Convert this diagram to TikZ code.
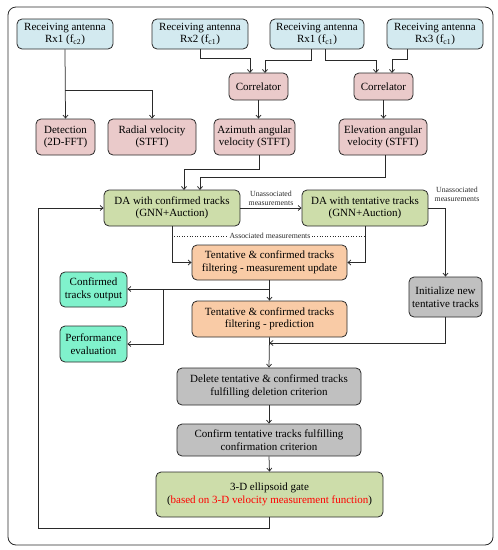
\documentclass[tikz,border=0pt]{standalone}
\usepackage{fontspec}
\setmainfont{Liberation Serif}
\usetikzlibrary{arrows.meta}
\definecolor{cblue}{HTML}{D3EAF0}
\definecolor{cpink}{HTML}{EACACA}
\definecolor{cgreen}{HTML}{CDDDAA}
\definecolor{corange}{HTML}{F9CBA6}
\definecolor{cmint}{HTML}{80F2CC}
\definecolor{cgray}{HTML}{C0C0C0}
\definecolor{cline}{HTML}{2A2A2A}
\tikzset{
  box/.style={draw=cline, line width=0.8pt, rounded corners=5pt, align=center, inner sep=1pt, font=\fontsize{11}{12.5}\selectfont},
  bluebox/.style={box, fill=cblue},
  pinkbox/.style={box, fill=cpink},
  greenbox/.style={box, fill=cgreen},
  orangebox/.style={box, fill=corange},
  mintbox/.style={box, fill=cmint},
  graybox/.style={box, fill=cgray},
  conn/.style={draw=cline, line width=0.75pt, -{Straight Barb[length=3pt,width=5pt]}},
  small/.style={font=\fontsize{7.8}{8.8}\selectfont, inner sep=1pt, align=center, text=cline},
}
\begin{document}
\begin{tikzpicture}[x=1pt,y=-1pt]
\useasboundingbox (0,0) rectangle (498,550);
\draw[cline, line width=0.8pt, rounded corners=8pt] (8,7) rectangle (493,545);

\node[bluebox, minimum width=96pt, minimum height=30pt] (rxa) at (65,34) {Receiving antenna\\Rx1 (f\textsubscript{c2})};
\node[bluebox, minimum width=96pt, minimum height=30pt] (rxb) at (200,34) {Receiving antenna\\Rx2 (f\textsubscript{c1})};
\node[bluebox, minimum width=94pt, minimum height=30pt] (rxc) at (317,34) {Receiving antenna\\Rx1 (f\textsubscript{c1})};
\node[bluebox, minimum width=96pt, minimum height=30pt] (rxd) at (435,34) {Receiving antenna\\Rx3 (f\textsubscript{c1})};

\node[pinkbox, minimum width=59pt, minimum height=27pt] (cor1) at (258.5,86.5) {Correlator};
\node[pinkbox, minimum width=59pt, minimum height=27pt] (cor2) at (383.5,86.5) {Correlator};

\node[pinkbox, minimum width=59pt, minimum height=36pt] (det) at (65.5,137) {Detection\\(2D-FFT)};
\node[pinkbox, minimum width=88pt, minimum height=36pt] (rad) at (152,137) {Radial velocity\\(STFT)};
\node[pinkbox, minimum width=81pt, minimum height=36pt] (azi) at (254.5,137) {Azimuth angular\\velocity (STFT)};
\node[pinkbox, minimum width=88pt, minimum height=36pt] (ele) at (383,137) {Elevation angular\\velocity (STFT)};

\node[greenbox, minimum width=136pt, minimum height=36pt] (dac) at (172,208) {DA with confirmed tracks\\(GNN+Auction)};
\node[greenbox, minimum width=126pt, minimum height=36pt] (dat) at (365,208) {DA with tentative tracks\\(GNN+Auction)};

\node[orangebox, minimum width=155pt, minimum height=35pt] (upd) at (269.5,262.5) {Tentative \& confirmed tracks\\filtering - measurement update};
\node[orangebox, minimum width=155pt, minimum height=36pt] (pred) at (269.5,319) {Tentative \& confirmed tracks\\filtering - prediction};

\node[graybox, minimum width=73pt, minimum height=40pt] (init) at (445.5,297) {Initialize new\\tentative tracks};

\node[mintbox, minimum width=67pt, minimum height=35pt] (out) at (93.5,289.5) {Confirmed\\tracks output};
\node[mintbox, minimum width=67pt, minimum height=36pt] (perf) at (93.5,344) {Performance\\evaluation};

\node[graybox, minimum width=184pt, minimum height=37pt] (del) at (269,386.5) {Delete tentative \& confirmed tracks\\fulfilling deletion criterion};
\node[graybox, minimum width=184pt, minimum height=32pt] (conf) at (269,440) {Confirm tentative tracks fulfilling\\confirmation criterion};
\node[greenbox, minimum width=227pt, minimum height=45pt] (gate) at (269.5,494.5) {3-D ellipsoid gate\\(\textcolor{red}{based on 3-D velocity measurement function})};

% antenna connections
\draw[conn] (rxa.south) -- (det.north);
\draw[conn] (65,90) -| (rad.north);
\draw[conn] (rxb.south) |- (250,58) -- (250,73);
\draw[conn] (311,49) |- (265,60) -- (265,73);
\draw[conn] (325,49) |- (376,60) -- (376,73);
\draw[conn] (407,49) |- (392,59) -- (392,73);
\draw[conn] (cor1.south) -- (cor1.south |- azi.north);
\draw[conn] (cor2.south) -- (cor2.south |- ele.north);

% to DA confirmed
\draw[conn] (259,155) |- (184,169) -- (184,190);
\draw[conn] (385,155) |- (200,177) -- (200,190);

% DA connections
\draw[conn] (dac.east) -- (dat.west) node[small, midway, above=1pt] {Unassociated\\measurements};
\draw[conn] (dat.east) -| (init.north);
\node[small] (unl) at (457,194) {Unassociated\\measurements};
\draw[conn] (172,226) |- (upd.west);
\draw[conn] (365,226) |- (upd.east);
\draw[cline, line width=0.6pt, dotted] (174,236) -- (365,236);
\node[small, fill=white, inner sep=1.5pt] (assoc) at (270,236) {Associated measurements};

% filtering
\draw[conn] (upd.south) -- (pred.north);
\draw[conn] (269.5,289) -- (out.east |- 269.5,289);
\draw[conn] (163,289) |- (perf.east);
\draw[conn] (pred.south) -- (del.north);
\draw[conn] (init.south) |- (269.5,343);
\draw[conn] (del.south) -- (conf.north);
\draw[conn] (conf.south) -- (gate.north);

% feedback
\draw[conn] (gate.south) |- (38,528) |- (dac.west);
\end{tikzpicture}
\end{document}
